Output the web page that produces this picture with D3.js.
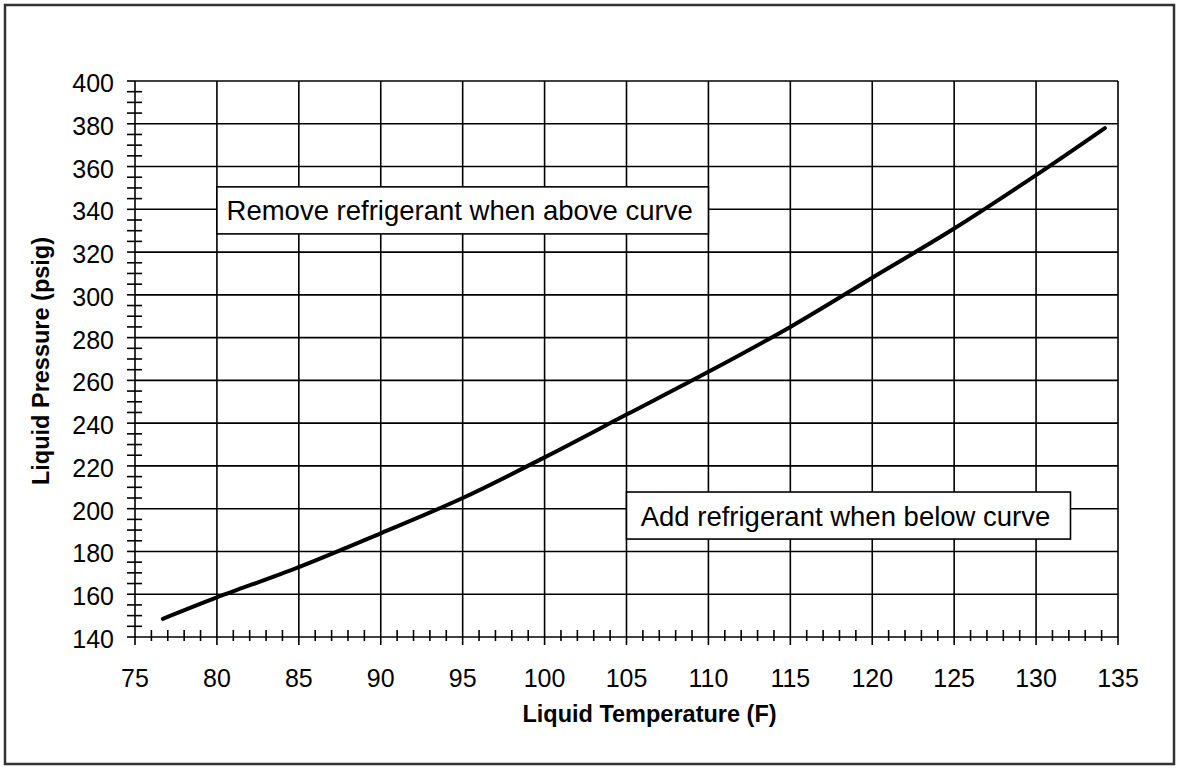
<!DOCTYPE html>
<html>
<head>
<meta charset="utf-8">
<script src="https://cdn.jsdelivr.net/npm/d3@7"></script>
<style>
	body { margin: 0; background: #fff; }
	svg text { font-family: Arial, "Liberation Sans", sans-serif; fill: #000; }
</style>
</head>
<body>
<svg id="chart" width="1179" height="768"></svg>
<script>
// curve: liquid temperature (F) -> liquid pressure (psig)
const temps     = [76.7, 80, 85, 90, 95, 100, 105, 110, 115, 120, 125, 130, 134.2];
const pressures = [148.5, 158.5, 172.7, 188.5, 205, 224, 244, 264, 285, 308, 331, 356, 378];

const xTicks = [75, 80, 85, 90, 95, 100, 105, 110, 115, 120, 125, 130, 135];
const yTicks = [140, 160, 180, 200, 220, 240, 260, 280, 300, 320, 340, 360, 380, 400];

// note boxes, corners in data units (t0,p0 top-left, t1,p1 bottom-right)
const notes = [
	{text: 'Remove refrigerant when above curve', t0: 80, p0: 350.5, t1: 110, p1: 328.5},
	{text: 'Add refrigerant when below curve', t0: 105, p0: 207.8, t1: 132.1, p1: 185.8}
];

const svg = d3.select('#chart');

// outer frame
svg.append('rect')
	.attr('x', 5).attr('y', 5)
	.attr('width', 1169).attr('height', 759)
	.attr('fill', 'none')
	.attr('stroke', '#333')
	.attr('stroke-width', 2.5);

const margin = {top: 81, right: 61, bottom: 131, left: 135};
const width = 1179 - margin.left - margin.right;
const height = 768 - margin.top - margin.bottom;

const g = svg.append('g')
	.attr('transform', `translate(${margin.left}, ${margin.top})`);

const x = d3.scaleLinear().domain([75, 135]).range([0, width]);
const y = d3.scaleLinear().domain([140, 400]).range([height, 0]);

// grid
g.append('g')
	.selectAll('line')
	.data(xTicks)
	.enter().append('line')
	.attr('x1', (d) => x(d)).attr('x2', (d) => x(d))
	.attr('y1', 0).attr('y2', height)
	.attr('stroke', '#000').attr('stroke-width', 1.6);
g.append('g')
	.selectAll('line')
	.data(yTicks)
	.enter().append('line')
	.attr('x1', 0).attr('x2', width)
	.attr('y1', (d) => y(d)).attr('y2', (d) => y(d))
	.attr('stroke', '#000').attr('stroke-width', 1.6);

// minor ticks
const xMinor = d3.range(75, 136, 1);
g.append('g')
	.selectAll('line')
	.data(xMinor)
	.enter().append('line')
	.attr('x1', (d) => x(d)).attr('x2', (d) => x(d))
	.attr('y1', (d) => d % 5 === 0 ? height : height - 7)
	.attr('y2', (d) => d % 5 === 0 ? height + 8 : height + 4)
	.attr('stroke', '#000').attr('stroke-width', 1.6);

const yMinor = d3.range(140, 401, 5);
g.append('g')
	.selectAll('line')
	.data(yMinor)
	.enter().append('line')
	.attr('x1', -8)
	.attr('x2', (d) => d % 20 === 0 ? 0 : 7)
	.attr('y1', (d) => y(d)).attr('y2', (d) => y(d))
	.attr('stroke', '#000').attr('stroke-width', 1.6);

// tick labels
g.append('g')
	.selectAll('text')
	.data(xTicks)
	.enter().append('text')
	.attr('x', (d) => x(d))
	.attr('y', height + 50)
	.attr('text-anchor', 'middle')
	.style('font-size', '25px')
	.text((d) => d);
g.append('g')
	.selectAll('text')
	.data(yTicks)
	.enter().append('text')
	.attr('x', -21)
	.attr('y', (d) => y(d) + 11)
	.attr('text-anchor', 'end')
	.style('font-size', '25px')
	.text((d) => d);

// axis titles
g.append('text')
	.attr('x', width / 2 + 23)
	.attr('y', height + 85)
	.attr('text-anchor', 'middle')
	.style('font-size', '23.5px')
	.style('font-weight', 'bold')
	.text('Liquid Temperature (F)');
g.append('text')
	.attr('transform', `translate(-86, ${height / 2 + 2}) rotate(-90)`)
	.attr('text-anchor', 'middle')
	.style('font-size', '23.5px')
	.style('font-weight', 'bold')
	.text('Liquid Pressure (psig)');

// curve
const pts = temps.map((t, i) => ({t: t, p: pressures[i]}));
g.append('path')
	.datum(pts)
	.attr('fill', 'none')
	.attr('stroke', '#000')
	.attr('stroke-width', 4)
	.attr('stroke-linecap', 'round')
	.attr('d', d3.line().curve(d3.curveCatmullRom)
		.x((p) => x(p.t))
		.y((p) => y(p.p)));

// annotation boxes
notes.forEach((n) => {
	const bx = x(n.t0), by = y(n.p0);
	const bw = x(n.t1) - bx, bh = y(n.p1) - by;
	g.append('rect')
		.attr('x', bx).attr('y', by)
		.attr('width', bw).attr('height', bh)
		.attr('fill', '#fff')
		.attr('stroke', '#000')
		.attr('stroke-width', 1.6);
	g.append('text')
		.attr('x', bx + bw / 2 - 3)
		.attr('y', by + bh / 2 + 10)
		.attr('text-anchor', 'middle')
		.style('font-size', '27.5px')
		.text(n.text);
});
</script>
</body>
</html>
